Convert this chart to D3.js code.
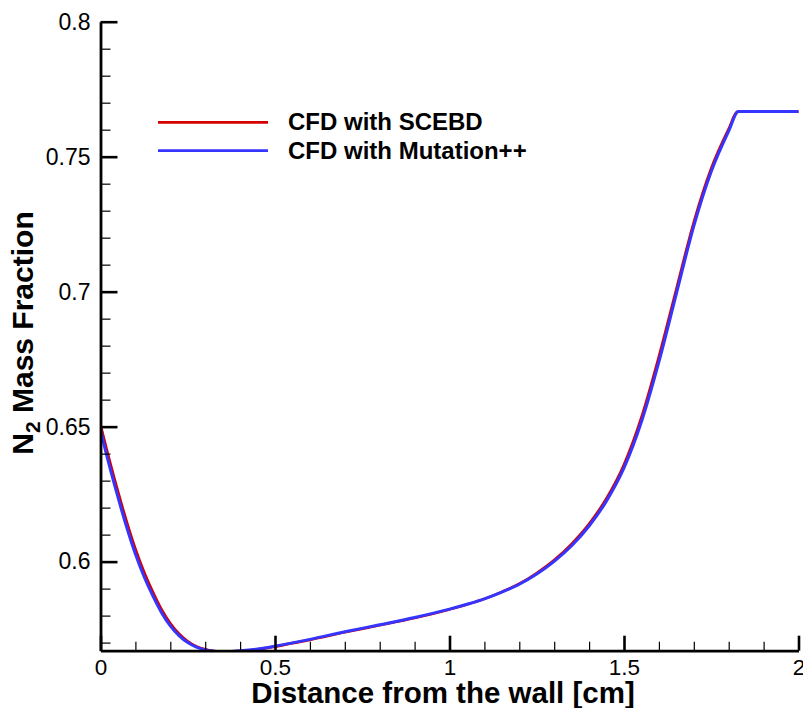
<!DOCTYPE html>
<html>
<head>
<meta charset="utf-8">
<script src="https://cdn.jsdelivr.net/npm/d3@7"></script>
<style>
  html, body { margin: 0; padding: 0; background: #fff; }
  svg { display: block; }
  text { font-family: "Liberation Sans", Arial, Helvetica, sans-serif; fill: #000; }
</style>
</head>
<body>
<svg id="chart" width="803" height="708"></svg>
<script>
// ---- data ----
const seriesNames = ["CFD with SCEBD", "CFD with Mutation++"];
const seriesColors = ["#d40000", "#3535ff"];

const scebdX = [0, 0.02, 0.04, 0.06, 0.08, 0.1, 0.125, 0.15, 0.175, 0.2, 0.225, 0.25, 0.275, 0.3, 0.325, 0.35, 0.375, 0.4, 0.45, 0.5, 0.55, 0.6, 0.7, 0.8, 0.9, 1.0, 1.05, 1.1, 1.15, 1.2, 1.25, 1.3, 1.35, 1.4, 1.45, 1.5, 1.55, 1.6, 1.65, 1.7, 1.75, 1.8, 1.825, 2.0];
const scebdY = [0.6508, 0.6405, 0.6308, 0.6215, 0.6128, 0.6048, 0.5962, 0.5888, 0.5823, 0.5772, 0.5733, 0.5705, 0.5686, 0.5675, 0.5669, 0.5667, 0.5667, 0.5669, 0.5675, 0.5685, 0.5698, 0.5710, 0.5738, 0.5764, 0.5791, 0.5823, 0.5841, 0.5862, 0.5888, 0.5918, 0.5958, 0.6006, 0.6066, 0.6140, 0.6235, 0.6360, 0.6535, 0.6760, 0.7010, 0.7258, 0.7457, 0.7603, 0.7667, 0.7667];

const mutX = [0, 0.02, 0.04, 0.06, 0.08, 0.1, 0.125, 0.15, 0.175, 0.2, 0.225, 0.25, 0.275, 0.3, 0.325, 0.35, 0.375, 0.4, 0.45, 0.5, 0.55, 0.6, 0.7, 0.8, 0.9, 1.0, 1.05, 1.1, 1.15, 1.2, 1.25, 1.3, 1.35, 1.4, 1.45, 1.5, 1.55, 1.6, 1.65, 1.7, 1.75, 1.8, 1.828, 2.0];
const mutY = [0.6488, 0.6382, 0.6285, 0.6193, 0.6107, 0.6028, 0.5944, 0.5873, 0.5811, 0.5762, 0.5726, 0.5700, 0.5683, 0.5673, 0.5668, 0.5666, 0.5667, 0.5670, 0.5676, 0.5687, 0.5699, 0.5712, 0.5740, 0.5766, 0.5793, 0.5824, 0.5842, 0.5862, 0.5887, 0.5916, 0.5954, 0.6001, 0.6059, 0.6132, 0.6225, 0.6347, 0.6518, 0.6740, 0.6992, 0.7243, 0.7445, 0.7595, 0.7667, 0.7667];

const xMajorTicks = [0, 0.5, 1, 1.5, 2];
const xTickLabels = ["0", "0.5", "1", "1.5", "2"];
const xMinorTicks = [0.1, 0.2, 0.3, 0.4, 0.6, 0.7, 0.8, 0.9, 1.1, 1.2, 1.3, 1.4, 1.6, 1.7, 1.8, 1.9];
const yMajorTicks = [0.6, 0.65, 0.7, 0.75, 0.8];
const yTickLabels = ["0.6", "0.65", "0.7", "0.75", "0.8"];
const yMinorTicks = [0.57, 0.58, 0.59, 0.61, 0.62, 0.63, 0.64, 0.66, 0.67, 0.68, 0.69, 0.71, 0.72, 0.73, 0.74, 0.76, 0.77, 0.78, 0.79];

const xDomain = [0, 2];
const yDomain = [0.567, 0.8];
const xTitle = "Distance from the wall [cm]";

// ---- layout ----
const L = 100.5, R = 798.5, T = 21.7, B = 650.7;
const svg = d3.select("#chart");

const x = d3.scaleLinear().domain(xDomain).range([L, R]);
const y = d3.scaleLinear().domain(yDomain).range([B, T]);

// clip
svg.append("defs").append("clipPath").attr("id", "plotclip")
  .append("rect").attr("x", L).attr("y", T - 5).attr("width", R - L + 5).attr("height", B - T + 5);

// curves
const line = d3.line().x(d => x(d[0])).y(d => y(d[1])).curve(d3.curveMonotoneX);
const series = [
  d3.zip(scebdX, scebdY),
  d3.zip(mutX, mutY)
];
const widths = [2.6, 3.0];
const g = svg.append("g").attr("clip-path", "url(#plotclip)");
series.forEach((s, i) => {
  g.append("path").datum(s)
    .attr("fill", "none")
    .attr("stroke", seriesColors[i])
    .attr("stroke-width", widths[i])
    .attr("stroke-linejoin", "round")
    .attr("d", line);
});

// axes: minor ticks
const fmtX = (d) => xTickLabels[xMajorTicks.indexOf(d)];
const fmtY = (d) => yTickLabels[yMajorTicks.indexOf(d)];

svg.append("g").attr("transform", `translate(0,${B})`)
  .call(d3.axisBottom(x).tickValues(xMinorTicks).tickSize(-9).tickFormat(""))
  .call(a => a.select(".domain").remove())
  .call(a => a.selectAll("line").attr("stroke-width", 1.2).attr("stroke", "#000"));
svg.append("g").attr("transform", `translate(${L},0)`)
  .call(d3.axisLeft(y).tickValues(yMinorTicks).tickSize(-10).tickFormat(""))
  .call(a => a.select(".domain").remove())
  .call(a => a.selectAll("line").attr("stroke-width", 1.2).attr("stroke", "#000"));

// major ticks + labels
const xAx = svg.append("g").attr("transform", `translate(0,${B})`)
  .call(d3.axisBottom(x).tickValues(xMajorTicks).tickSize(-15).tickSizeOuter(0).tickPadding(8).tickFormat(fmtX));
xAx.select(".domain").attr("stroke", "#000").attr("stroke-width", 2.8);
xAx.selectAll(".tick line").attr("stroke", "#000").attr("stroke-width", 2.6);
xAx.selectAll(".tick text").attr("font-size", 22.5).attr("font-family", "Liberation Sans, Arial, sans-serif").attr("fill", "#000");

const yAx = svg.append("g").attr("transform", `translate(${L},0)`)
  .call(d3.axisLeft(y).tickValues(yMajorTicks).tickSize(-17).tickSizeOuter(0).tickPadding(10).tickFormat(fmtY));
yAx.select(".domain").attr("stroke", "#000").attr("stroke-width", 2.8);
yAx.selectAll(".tick line").attr("stroke", "#000").attr("stroke-width", 2.6);
yAx.selectAll(".tick text").attr("font-size", 23).attr("font-family", "Liberation Sans, Arial, sans-serif").attr("fill", "#000");

// axis titles
svg.append("text")
  .attr("x", 443).attr("y", 703)
  .attr("text-anchor", "middle")
  .attr("font-size", 29.5).attr("font-weight", "bold")
  .text(xTitle);

const yt = svg.append("text")
  .attr("transform", "translate(33,333) rotate(-90)")
  .attr("text-anchor", "middle")
  .attr("font-size", 30).attr("font-weight", "bold");
yt.append("tspan").text("N");
yt.append("tspan").attr("font-size", 21).attr("dy", 7).text("2");
yt.append("tspan").attr("dy", -7).text(" Mass Fraction");

// legend
const legY = [122.3, 150.7];
seriesNames.forEach((name, i) => {
  svg.append("line")
    .attr("x1", 158).attr("x2", 268)
    .attr("y1", legY[i]).attr("y2", legY[i])
    .attr("stroke", seriesColors[i]).attr("stroke-width", 2.8);
  svg.append("text")
    .attr("x", 288).attr("y", legY[i] + 7.8)
    .attr("font-size", 24).attr("font-weight", "bold")
    .text(name);
});
</script>
</body>
</html>
